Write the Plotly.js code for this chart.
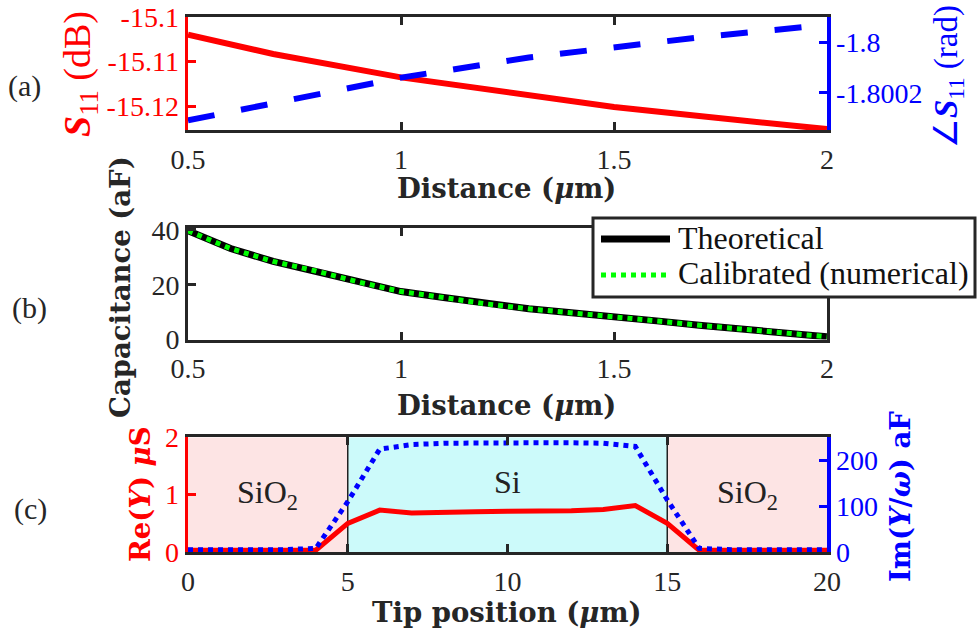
<!DOCTYPE html>
<html>
<head>
<meta charset="utf-8">
<script src="https://cdn.plot.ly/plotly-3.0.1.min.js"></script>
<style>
  html, body { margin: 0; padding: 0; background: #fff; }
  #chart { width: 977px; height: 637px; }
</style>
</head>
<body>
<div id="chart"></div>
<script>
// (a) reflection coefficient versus tip distance
const distA = [0.5, 0.7, 1.0, 1.3, 1.5, 1.7, 2.0];
const s11Mag = [-15.1040, -15.1083, -15.1135, -15.1176, -15.1201, -15.1221, -15.1250];
const s11Phase = [-1.80031, -1.80024, -1.80014, -1.80006, -1.80002, -1.79998, -1.79993];
const s11MagTicks = [-15.12, -15.11, -15.1];
const s11MagTickText = ['-15.12', '-15.11', '-15.1'];
const s11PhaseTicks = [-1.8002, -1.8];
const s11PhaseTickText = ['-1.8002', '-1.8'];

// (b) tip-sample capacitance versus distance
const distB = [0.5, 0.6, 0.7, 0.8, 0.9, 1.0, 1.1, 1.2, 1.3, 1.4, 1.5, 1.6, 1.7, 1.8, 1.9, 2.0];
const capTheory = [39.7, 33.2, 28.5, 25.0, 21.0, 17.5, 15.3, 13.0, 11.2, 9.8, 8.5, 6.8, 5.2, 3.8, 2.4, 1.0];
const capCalib = [39.7, 33.2, 28.5, 25.0, 21.0, 17.5, 15.3, 13.0, 11.2, 9.8, 8.5, 6.8, 5.2, 3.8, 2.4, 1.0];
const capSeriesNames = ['Theoretical', 'Calibrated (numerical)'];
const distTicks = [0.5, 1, 1.5, 2];

// (c) admittance scan across the SiO2 / Si / SiO2 sample
const tipPos = [0, 1, 2, 3, 4, 5, 6, 7, 8, 9, 10, 11, 12, 13, 14, 15, 16, 17, 18, 19, 20];
const reY = [0.03, 0.03, 0.03, 0.03, 0.03, 0.50, 0.73, 0.68, 0.70, 0.70, 0.71, 0.71, 0.72, 0.74, 0.81, 0.50, 0.03, 0.03, 0.03, 0.03, 0.03];
const imY = [5, 5, 5, 5, 8, 110, 225, 235, 238, 239, 239, 239, 239, 238, 231, 114, 8, 5, 5, 5, 5];
const tipTicks = [0, 5, 10, 15, 20];
const regionNames = ['SiO<sub>2</sub>', 'Si', 'SiO<sub>2</sub>'];
const regionStart = [0, 5, 15];
const regionEnd = [5, 15, 20];
const regionLabelY = [1.0, 1.22, 1.0];

const W = 977, H = 637;
const AX = '#262626', RED = '#ff0000', BLUE = '#0000ff', GREEN = '#00ff00';
const SERIF = 'Liberation Serif';
const BOLD = 'DejaVu Serif';
const px = x => x / W;
const py = y => 1 - y / H;

const xDom = [px(188), px(827)];
const tickFont = c => ({family: SERIF, size: 28, color: c});

function xAxis(anchor, range, vals) {
  return {
    domain: xDom, anchor: anchor, range: range, tickvals: vals,
    ticks: 'inside', ticklen: 8, tickwidth: 3, tickcolor: AX,
    showline: true, linecolor: AX, linewidth: 3, mirror: 'ticks',
    showgrid: false, zeroline: false, tickfont: tickFont(AX), ticklabelstandoff: 2
  };
}
function yAxis(dom, range, vals, text, color, extra) {
  return Object.assign({
    domain: dom, range: range, tickvals: vals, ticktext: text,
    ticks: 'inside', ticklen: 8, tickwidth: 3, tickcolor: color,
    showline: true, linecolor: color, linewidth: 3.5,
    showgrid: false, zeroline: false, tickfont: tickFont(color), ticklabelstandoff: 0
  }, extra || {});
}

const traces = [
  {x: distA, y: s11Mag, xaxis: 'x', yaxis: 'y', mode: 'lines', name: '|S11|',
   line: {color: RED, width: 6}},
  {x: distA, y: s11Phase, xaxis: 'x', yaxis: 'y2', mode: 'lines', name: '∠S11',
   line: {color: BLUE, width: 6, dash: '27px,27px'}},
  {x: distB, y: capTheory, xaxis: 'x2', yaxis: 'y3', mode: 'lines', name: capSeriesNames[0],
   line: {color: '#000000', width: 7}},
  {x: distB, y: capCalib, xaxis: 'x2', yaxis: 'y3', mode: 'lines', name: capSeriesNames[1],
   line: {color: GREEN, width: 5, dash: 'dot'}},
  {x: tipPos, y: reY, xaxis: 'x3', yaxis: 'y4', mode: 'lines', name: 'Re(Y)',
   line: {color: RED, width: 5}},
  {x: tipPos, y: imY, xaxis: 'x3', yaxis: 'y5', mode: 'lines', name: 'Im(Y/ω)',
   line: {color: BLUE, width: 5, dash: 'dot'}}
];

const regionFill = ['#fde4e4', '#ccfafa', '#fde4e4'];
const shapes = [];
const annotations = [];
regionNames.forEach((name, i) => {
  shapes.push({type: 'rect', xref: 'x3', yref: 'y4', x0: regionStart[i], x1: regionEnd[i], y0: 0, y1: 2,
    fillcolor: regionFill[i], line: {width: 0}, layer: 'below'});
  annotations.push({xref: 'x3', yref: 'y4', x: (regionStart[i] + regionEnd[i]) / 2, y: regionLabelY[i],
    text: name, showarrow: false, font: {family: SERIF, size: 32, color: '#222'}});
});
[5, 15].forEach(b => shapes.push({type: 'line', xref: 'x3', yref: 'y4', x0: b, x1: b, y0: 0, y1: 2,
  line: {color: '#222', width: 1.5}, layer: 'below'}));

function label(x, y, text, font, angle, anchor) {
  annotations.push({xref: 'paper', yref: 'paper', x: px(x), y: py(y), text: text,
    showarrow: false, xanchor: anchor || 'center', yanchor: 'middle', textangle: angle || 0, font: font});
}

// legend box for panel (b), placed over the upper-right corner of the axes
shapes.push({type: 'rect', xref: 'paper', yref: 'paper', x0: px(593), x1: px(975), y0: py(297), y1: py(218),
  fillcolor: '#ffffff', line: {color: AX, width: 3}, layer: 'above'});
shapes.push({type: 'line', xref: 'paper', yref: 'paper', x0: px(601), x1: px(670), y0: py(239), y1: py(239),
  line: {color: '#000000', width: 7}, layer: 'above'});
shapes.push({type: 'line', xref: 'paper', yref: 'paper', x0: px(601), x1: px(670), y0: py(275), y1: py(275),
  line: {color: GREEN, width: 5, dash: 'dot'}, layer: 'above'});
label(676, 238, capSeriesNames[0], {family: SERIF, size: 32, color: '#111'}, 0, 'left');
label(676, 273, capSeriesNames[1], {family: SERIF, size: 32, color: '#111'}, 0, 'left');

const boldFont = c => ({family: BOLD, size: 27.5, color: c || AX});
label(24, 86, '(a)', {family: SERIF, size: 30, color: AX});
label(29, 308, '(b)', {family: SERIF, size: 30, color: AX});
label(31, 509, '(c)', {family: SERIF, size: 30, color: AX});
label(80, 74, '<b><i>S</i></b><sub>11</sub> (dB)', {family: SERIF, size: 38, color: RED}, -90);
label(948, 77, '∠<b><i>S</i></b><sub>11</sub> (rad)', {family: SERIF, size: 33, color: BLUE}, -90);
label(506, 188, '<b>Distance (<i>μ</i>m)</b>', boldFont());
label(120, 287, '<b>Capacitance (aF)</b>', boldFont(), -90);
label(506, 405, '<b>Distance (<i>μ</i>m)</b>', boldFont());
label(140, 494, '<b>Re(<i>Y</i>) <i>μ</i>S</b>', boldFont(RED), -90);
label(900, 497, '<b>Im(<i>Y</i>/<i>ω</i>) aF</b>', boldFont(BLUE), -90);
label(507, 612, '<b>Tip position (<i>μ</i>m)</b>', boldFont());

const layout = {
  width: W, height: H,
  margin: {l: 0, r: 0, t: 0, b: 0},
  paper_bgcolor: '#ffffff', plot_bgcolor: '#ffffff',
  font: {family: SERIF, size: 28, color: AX},
  showlegend: false,
  xaxis: xAxis('y', [0.5, 2], distTicks),
  yaxis: yAxis([py(130), py(16.7)], [-15.1252, -15.1], s11MagTicks, s11MagTickText, RED),
  yaxis2: yAxis([py(130), py(16.7)], [-1.800348, -1.799898], s11PhaseTicks, s11PhaseTickText, BLUE,
    {overlaying: 'y', side: 'right', anchor: 'x'}),
  xaxis2: xAxis('y3', [0.5, 2], distTicks),
  yaxis3: yAxis([py(339.5), py(228.3)], [0, 40.6], [0, 20, 40], ['0', '20', '40'], AX,
    {anchor: 'x2', mirror: 'ticks', linewidth: 3}),
  xaxis3: xAxis('y4', [0, 20], tipTicks),
  yaxis4: yAxis([py(552), py(437.3)], [0, 2], [0, 1, 2], ['0', '1', '2'], RED, {anchor: 'x3'}),
  yaxis5: yAxis([py(552), py(437.3)], [0, 251], [0, 100, 200], ['0', '100', '200'], BLUE,
    {overlaying: 'y4', side: 'right', anchor: 'x3'}),
  shapes: shapes,
  annotations: annotations
};

Plotly.newPlot('chart', traces, layout, {displayModeBar: false, staticPlot: true});
</script>
</body>
</html>
